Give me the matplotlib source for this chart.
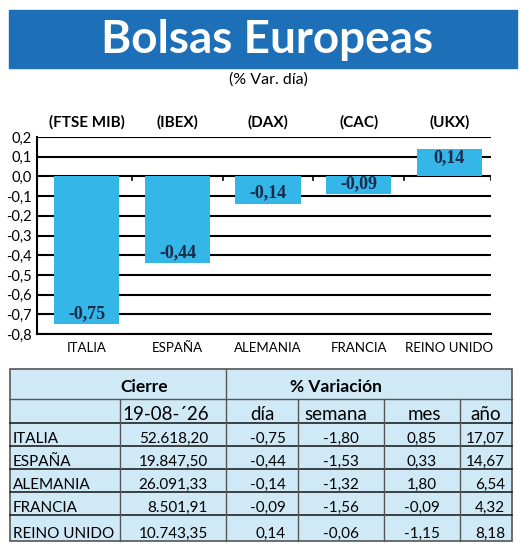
import matplotlib
matplotlib.use("Agg")
import matplotlib.pyplot as plt
from matplotlib.patches import Rectangle

# chart data
paises = ["ITALIA", "ESPAÑA", "ALEMANIA", "FRANCIA", "REINO UNIDO"]
indices = ["(FTSE MIB)", "(IBEX)", "(DAX)", "(CAC)", "(UKX)"]
var_dia = [-0.75, -0.44, -0.14, -0.09, 0.14]
yticks = [0.2, 0.1, 0.0, -0.1, -0.2, -0.3, -0.4, -0.5, -0.6, -0.7, -0.8]

# table data
fecha = "19-08-´26"
cierre = ["52.618,20", "19.847,50", "26.091,33", "8.501,91", "10.743,35"]
t_dia = ["-0,75", "-0,44", "-0,14", "-0,09", "0,14"]
t_semana = ["-1,80", "-1,53", "-1,32", "-1,56", "-0,06"]
t_mes = ["0,85", "0,33", "1,80", "-0,09", "-1,15"]
t_anio = ["17,07", "14,67", "6,54", "4,32", "8,18"]

W, H = 520, 547
BLUE_BANNER = "#1d6fb8"
BAR = "#35b6e9"
TABLE_BG = "#cfe9f7"
NAVY = "#1b2a48"
SANS = ["Lato", "DejaVu Sans"]

fig = plt.figure(figsize=(W / 100, H / 100), dpi=100)
fig.patch.set_facecolor("white")

# overlay axes in pixel coordinates
ov = fig.add_axes([0, 0, 1, 1])
ov.set_xlim(0, W)
ov.set_ylim(H, 0)
ov.axis("off")

# banner
ov.add_patch(Rectangle((9, 10), 508, 58, color=BLUE_BANNER, zorder=1))
ov.text(267, 40, "Bolsas Europeas", color="white", fontsize=33, fontweight="bold",
        family=SANS, ha="center", va="center", zorder=2)
ov.text(268, 80, "(% Var. día)", fontsize=11.5, family=SANS, ha="center", va="center")

# bar chart
x0, x1, ytop, ybot = 37, 491, 137, 334
ax = fig.add_axes([x0 / W, 1 - ybot / H, (x1 - x0) / W, (ybot - ytop) / H])
pos = list(range(len(paises)))
ax.bar(pos, var_dia, width=0.72, color=BAR, zorder=3)
ax.set_xlim(-0.55, 4.46)
ax.set_ylim(-0.8, 0.2)
ax.set_yticks(yticks)
ax.set_yticklabels([f"{v:.1f}".replace(".", ",") for v in yticks],
                   fontsize=10.5, family=SANS)
ax.tick_params(axis="y", length=0, pad=4)
for v in yticks:
    ax.axhline(v, color="black", lw=1.5, zorder=1)
for b in [0.5, 1.5, 2.5, 3.5, 4.46]:
    ax.plot([b, b], [0, -0.018], color="black", lw=1.2, zorder=2)
ax.set_xticks(pos)
ax.set_xticklabels(paises, fontsize=9.5, family=SANS)
ax.tick_params(axis="x", length=0, pad=6)
for sp in ["top", "right"]:
    ax.spines[sp].set_visible(False)
ax.spines["left"].set_linewidth(1.5)
ax.spines["bottom"].set_linewidth(1.5)
ax.set_facecolor("none")

for p, v, name in zip(pos, var_dia, indices):
    lbl = f"{v:.2f}".replace(".", ",")
    off = 0.055 if v < 0 else -0.045
    ax.text(p, v + off, lbl, ha="center", va="center", fontsize=13,
            fontweight="bold", family="Liberation Serif", color=NAVY, zorder=4)
    ax.text(p, 0.275, name, ha="center", va="center", fontsize=11,
            fontweight="bold", family=SANS, clip_on=False)

# table
tx0, tx1 = 10, 512
ry = [369, 399, 423, 446, 469, 492, 515, 541]
ov.add_patch(Rectangle((tx0, ry[0]), tx1 - tx0, ry[-1] - ry[0], facecolor=TABLE_BG,
                       edgecolor="#555555", lw=1.2, zorder=1))
ov.plot([tx0, tx1], [ry[1], ry[1]], color="#555555", lw=1.0, zorder=2)
for y in ry[2:-1]:
    ov.plot([tx0, tx1], [y, y], color="#222222", lw=1.2, zorder=2)
ov.plot([226, 226], [ry[0], ry[-1]], color="#555555", lw=1.0, zorder=2)
for c in [120, 298, 384, 460]:
    ov.plot([c, c], [ry[1], ry[-1]], color="#555555", lw=1.0, zorder=2)

ov.text(144, ry[1] - 7, "Cierre", fontsize=12.5, fontweight="bold", family=SANS,
        ha="center", va="baseline", zorder=3)
ov.text(336, ry[1] - 7, "% Variación", fontsize=12.5, fontweight="bold", family=SANS,
        ha="center", va="baseline", zorder=3)
heads = [(fecha, 166), ("día", 262), ("semana", 336), ("mes", 424), ("año", 486)]
for txt, cx in heads:
    ov.text(cx, ry[2] - 3, txt, fontsize=13.5, family=SANS, ha="center",
            va="baseline", zorder=3)

for i in range(len(paises)):
    yb = ry[3 + i] - 3
    kw = dict(fontsize=11, family=SANS, va="baseline", zorder=3)
    ov.text(13, yb, paises[i], ha="left", **kw)
    ov.text(208, yb, cierre[i], ha="right", **kw)
    ov.text(286, yb, t_dia[i], ha="right", **kw)
    ov.text(341, yb, t_semana[i], ha="center", **kw)
    ov.text(422, yb, t_mes[i], ha="center", **kw)
    ov.text(505, yb, t_anio[i], ha="right", **kw)

fig.savefig("out.png", dpi=100)
